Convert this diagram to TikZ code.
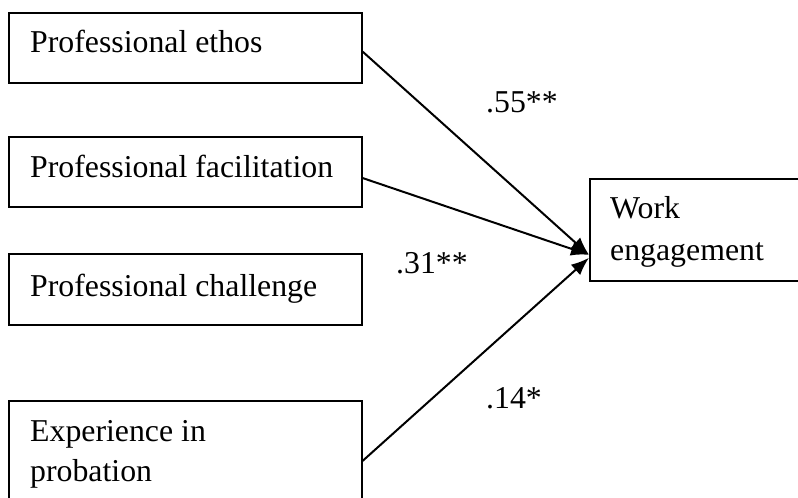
\documentclass[tikz,border=0pt]{standalone}
\usepackage{fontspec}
\setmainfont{Liberation Serif}
\usetikzlibrary{arrows.meta}
\begin{document}
\begin{tikzpicture}[x=1pt,y=-1pt,
  boxstyle/.style={draw=black,line width=2pt,rectangle,inner sep=0pt,minimum width=353pt},
  txt/.style={inner sep=0pt,anchor=base west,font=\fontsize{31.8}{41}\selectfont},
  conn/.style={line width=2pt,-{Latex[length=18pt,width=14pt]}}]
\useasboundingbox (0,0) rectangle (798,498);
% boxes
\node[boxstyle,minimum height=70pt] (ethos) at (185,47.5) {};
\node[boxstyle,minimum height=70pt] (facil) at (185,171.5) {};
\node[boxstyle,minimum height=70.5pt] (chall) at (185,289.7) {};
\node[boxstyle,minimum height=120pt] (exper) at (185,461) {};
\node[boxstyle,minimum width=240pt,minimum height=101.5pt,anchor=west] (we) at (589,229.8) {};
% texts
\node[txt] (t1) at (30,52) {Professional ethos};
\node[txt] (t2) at (30,177) {Professional facilitation};
\node[txt] (t3) at (30,296) {Professional challenge};
\node[txt] (t4a) at (30,441) {Experience in};
\node[txt] (t4b) at (30,481) {probation};
\node[txt] (t5a) at (610,218) {Work};
\node[txt] (t5b) at (610,260) {engagement};
% coefficients
\node[txt] (c1) at (486,112) {.55**};
\node[txt] (c2) at (396,273) {.31**};
\node[txt] (c3) at (486,408) {.14*};
% connectors
\draw[conn] ([yshift=-4pt]ethos.east) -- ([yshift=-25pt]we.west);
\draw[conn] ([yshift=-6.5pt]facil.east) -- ([yshift=-25pt]we.west);
\draw[conn] (exper.east) -- ([yshift=-28pt]we.west);
\end{tikzpicture}
\end{document}
